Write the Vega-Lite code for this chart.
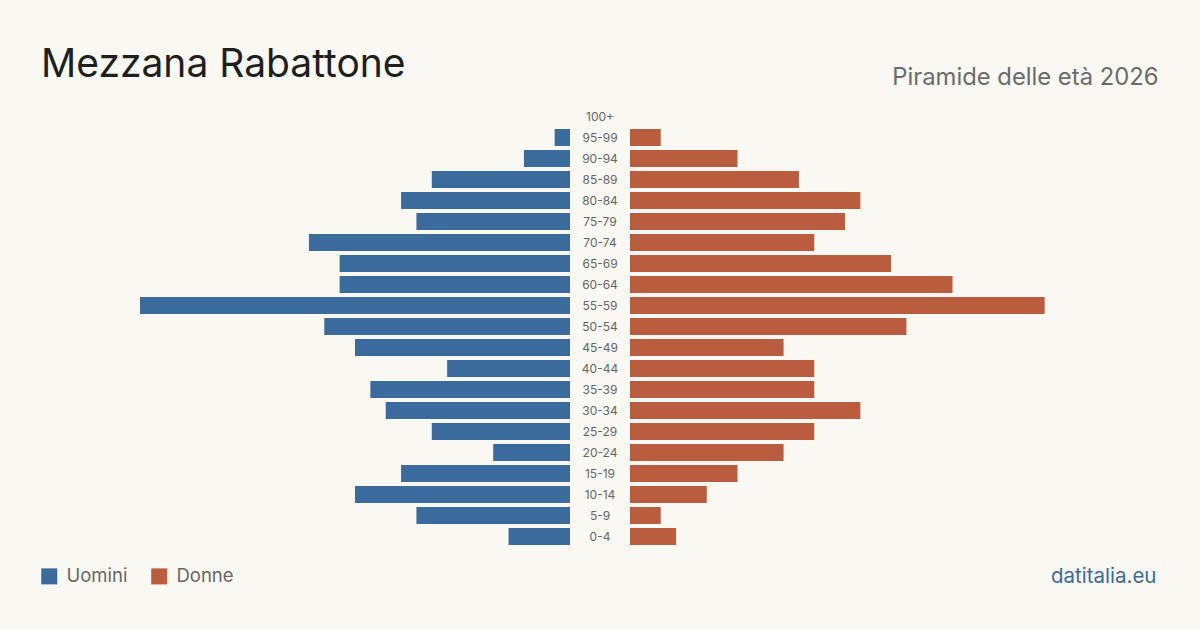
{
  "$schema": "https://vega.github.io/schema/vega-lite/v6.json",
  "width": 1200,
  "height": 441,
  "autosize": {"type": "none"},
  "padding": {"left": 0, "right": 0, "top": 106, "bottom": 83},
  "background": "#f9f8f3",
  "config": {
    "view": {"stroke": null},
    "font": "Inter",
    "title": {"font": "Inter"}
  },
  "title": {
    "text": "Mezzana Rabattone",
    "anchor": "start",
    "frame": "group",
    "fontSize": 39,
    "fontWeight": "normal",
    "color": "#1f1f1f",
    "dx": 41,
    "dy": 46,
    "offset": 26
  },
  "data": {
    "values": [
      {"eta": "100+", "uomini": 0, "donne": 0},
      {"eta": "95-99", "uomini": 1, "donne": 2},
      {"eta": "90-94", "uomini": 3, "donne": 7},
      {"eta": "85-89", "uomini": 9, "donne": 11},
      {"eta": "80-84", "uomini": 11, "donne": 15},
      {"eta": "75-79", "uomini": 10, "donne": 14},
      {"eta": "70-74", "uomini": 17, "donne": 12},
      {"eta": "65-69", "uomini": 15, "donne": 17},
      {"eta": "60-64", "uomini": 15, "donne": 21},
      {"eta": "55-59", "uomini": 28, "donne": 27},
      {"eta": "50-54", "uomini": 16, "donne": 18},
      {"eta": "45-49", "uomini": 14, "donne": 10},
      {"eta": "40-44", "uomini": 8, "donne": 12},
      {"eta": "35-39", "uomini": 13, "donne": 12},
      {"eta": "30-34", "uomini": 12, "donne": 15},
      {"eta": "25-29", "uomini": 9, "donne": 12},
      {"eta": "20-24", "uomini": 5, "donne": 10},
      {"eta": "15-19", "uomini": 11, "donne": 7},
      {"eta": "10-14", "uomini": 14, "donne": 5},
      {"eta": "5-9", "uomini": 10, "donne": 2},
      {"eta": "0-4", "uomini": 4, "donne": 3}
    ]
  },
  "encoding": {
    "y": {
      "field": "eta",
      "type": "nominal",
      "sort": null,
      "scale": {"paddingInner": 0.19, "paddingOuter": 0.095},
      "axis": null
    }
  },
  "layer": [
    {
      "mark": {"type": "bar", "xOffset": -30, "x2Offset": -30},
      "encoding": {
        "x": {
          "field": "uomini",
          "type": "quantitative",
          "scale": {"domain": [-39.07, 39.07], "reverse": true, "nice": false, "zero": false},
          "axis": {
            "orient": "bottom",
            "labels": false,
            "ticks": false,
            "domain": false,
            "grid": false,
            "title": "datitalia.eu",
            "titleFont": "Inter",
            "titleFontSize": 20.5,
            "titleFontWeight": "normal",
            "titleColor": "#3b6a9c",
            "titleAlign": "right",
            "titleAnchor": null,
            "titleBaseline": "alphabetic",
            "titleX": 1156,
            "titleY": 35
          }
        },
        "x2": {"datum": 0},
        "color": {
          "datum": "Uomini",
          "type": "nominal",
          "scale": {"domain": ["Uomini", "Donne"], "range": ["#3b6a9c", "#b95d3e"]},
          "legend": {
            "orient": "none",
            "legendX": 40,
            "legendY": 461,
            "direction": "horizontal",
            "title": null,
            "symbolType": "square",
            "symbolSize": 256,
            "symbolStrokeWidth": 0,
            "symbolOpacity": 1,
            "labelFont": "Inter",
            "labelFontSize": 18.5,
            "labelColor": "#666666",
            "labelOffset": 8,
            "columnPadding": 22
          }
        }
      }
    },
    {
      "mark": {"type": "bar", "xOffset": 30, "x2Offset": 30},
      "encoding": {
        "x": {
          "field": "donne",
          "type": "quantitative",
          "scale": {"domain": [-39.07, 39.07], "nice": false, "zero": false},
          "axis": {
            "orient": "top",
            "labels": false,
            "ticks": false,
            "domain": false,
            "grid": false,
            "title": "Piramide delle età 2026",
            "titleFont": "Inter",
            "titleFontSize": 23.8,
            "titleFontWeight": "normal",
            "titleColor": "#6b6b6b",
            "titleAlign": "right",
            "titleAnchor": null,
            "titleBaseline": "alphabetic",
            "titleX": 1158,
            "titleY": -22
          }
        },
        "x2": {"datum": 0},
        "color": {"datum": "Donne", "type": "nominal"}
      }
    },
    {
      "mark": {"type": "text", "fontSize": 12, "color": "#666666", "font": "Inter"},
      "encoding": {
        "x": {"datum": 0, "type": "quantitative", "scale": {"domain": [-39.07, 39.07], "nice": false, "zero": false}, "axis": null},
        "text": {"field": "eta"}
      }
    }
  ],
  "resolve": {"scale": {"x": "independent"}, "axis": {"x": "independent"}}
}
